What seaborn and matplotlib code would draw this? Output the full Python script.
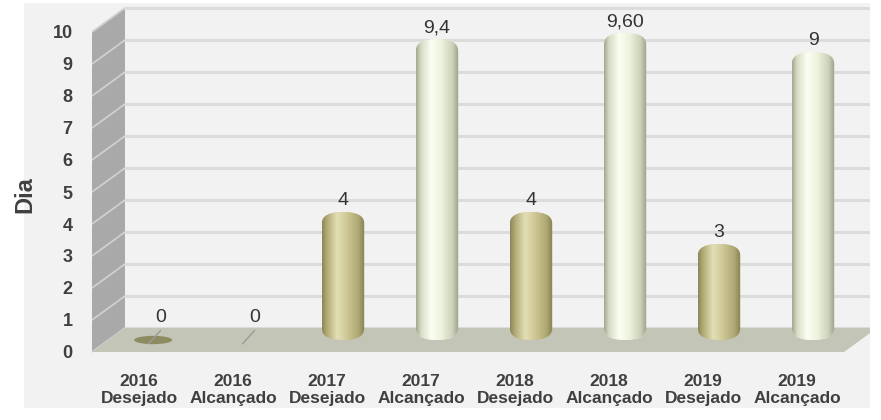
import numpy as np
import pandas as pd
import matplotlib
matplotlib.use("Agg")
import matplotlib.pyplot as plt
import seaborn as sns
from matplotlib.patches import Polygon, FancyBboxPatch, Ellipse, Rectangle
from matplotlib.colors import LinearSegmentedColormap

# ---- data ----
categorias = ["2016\nDesejado", "2016\nAlcançado", "2017\nDesejado", "2017\nAlcançado",
              "2018\nDesejado", "2018\nAlcançado", "2019\nDesejado", "2019\nAlcançado"]
tipos = ["Desejado", "Alcançado", "Desejado", "Alcançado",
         "Desejado", "Alcançado", "Desejado", "Alcançado"]
valores = [0, 0, 4, 9.4, 4, 9.6, 3, 9]
rotulos = ["0", "0", "4", "9,4", "4", "9,60", "3", "9"]
yticks = list(range(0, 11))
ylabel = "Dia"

df = pd.DataFrame({"cat": categorias, "tipo": tipos, "valor": valores})

sns.set_theme(style="white")
FONT = ["Liberation Sans", "DejaVu Sans"]
plt.rcParams["font.family"] = FONT

W, H = 881, 420
fig = plt.figure(figsize=(W / 100, H / 100), dpi=100)
fig.patch.set_facecolor("white")
# grey panel background
fig.patches.append(Rectangle((24 / W, 1 - 408 / H), (870 - 24) / W, (408 - 3) / H,
                             transform=fig.transFigure, facecolor="#f2f2f2",
                             edgecolor="none", zorder=-10))

# axes: front plane mapping  x_px = 139 + 94*x,  y_px = 352 - 32*y
xmin, xmax = -0.5, (870 - 139) / 94
ymin, ymax = -0.3, 10.85
left = (139 + 94 * xmin) / W
right = (139 + 94 * xmax) / W
bottom = 1 - (352 - 32 * ymin) / H
top = 1 - (352 - 32 * ymax) / H
ax = fig.add_axes([left, bottom, right - left, top - bottom])
ax.set_facecolor("none")

COL_D, COL_A = "#c6bf8c", "#eef3df"
palette = {"Desejado": COL_D, "Alcançado": COL_A}
sns.barplot(data=df, x="cat", y="valor", hue="tipo", order=categorias,
            palette=palette, dodge=False, width=0.45, legend=False, saturation=1,
            edgecolor="none", ax=ax, zorder=2)

# depth offsets (data units)
DX, DY = 33 / 94, 24 / 32
BX, BY = DX / 2 - 0.005, DY / 2

# side wall
ax.add_patch(Polygon([(-0.5, 0), (-0.5 + DX, DY), (-0.5 + DX, 10 + DY), (-0.5, 10)],
                     closed=True, facecolor="#a9a9a9", edgecolor="none", zorder=0.5))
for v in yticks:
    ax.plot([-0.5, -0.5 + DX], [v, v + DY], color="#cfcfcf", lw=1.3, zorder=0.6,
            solid_capstyle="butt")
    ax.plot([-0.5 + DX, xmax + 1], [v + DY, v + DY], color="#dcdcdc", lw=2.2, zorder=0.6)
# floor
ax.add_patch(Polygon([(-0.5, 0), (7.5, 0), (7.5 + DX, DY), (-0.5 + DX, DY)],
                     closed=True, facecolor="#c3c5b6", edgecolor="none", zorder=0.7))

cmap_d = LinearSegmentedColormap.from_list("d", [
    (0.0, "#8c875a"), (0.12, "#b3ac78"), (0.35, "#e3dfb6"), (0.6, "#cdc694"),
    (0.85, "#aea874"), (1.0, "#85804f")])
cmap_a = LinearSegmentedColormap.from_list("a", [
    (0.0, "#a3a891"), (0.12, "#d8ddc6"), (0.35, "#fbfef3"), (0.6, "#edf2dd"),
    (0.85, "#cdd2ba"), (1.0, "#9a9f88")])
grad = np.linspace(0, 1, 128)[None, :]

for p in list(ax.patches):
    if not isinstance(p, Rectangle) or p.get_zorder() != 2:
        continue
    x0 = p.get_x() + BX
    w = p.get_width()
    h = p.get_height()
    p.set_x(x0)
    p.set_y(BY)
    idx = int(round(x0 + w / 2 - BX))
    is_d = tipos[idx] == "Desejado"
    cx = x0 + w / 2
    if h > 0:
        r = 0.499 * w
        clip = FancyBboxPatch((x0, BY), w, h, boxstyle=f"round,pad=0,rounding_size={r}",
                              mutation_aspect=1.6, transform=ax.transData,
                              facecolor="none", edgecolor="none")
        p.set_clip_path(clip)
        im = ax.imshow(grad, cmap=cmap_d if is_d else cmap_a, aspect="auto",
                       extent=(x0, x0 + w, BY, BY + h), zorder=2.1, interpolation="bilinear")
        im.set_clip_path(clip)
        ax.annotate(rotulos[idx], (cx, BY + h), xytext=(0, 2), textcoords="offset points",
                    ha="center", va="bottom", fontsize=14, color="#333333", family=FONT)
    else:
        if is_d:
            ax.add_patch(Ellipse((cx - 0.02, BY), w * 0.9, 0.26, facecolor="#8d8b62",
                                 edgecolor="none", zorder=1.5))
        ax.plot([cx - 0.07, cx + 0.06], [BY - 0.12, BY + 0.3], color="#9a9a9a", lw=1, zorder=1.6)
        ax.text(cx + 0.06, BY + 0.45, rotulos[idx], ha="center", va="bottom",
                fontsize=14, color="#333333", family=FONT)

ax.set_xlim(xmin, xmax)
ax.set_ylim(ymin, ymax)
ax.set_yticks(yticks)
ax.set_yticklabels([str(v) for v in yticks], fontsize=13, fontweight="bold",
                   color="#404040", family=FONT)
ax.set_xticks(range(len(categorias)))
ax.set_xticklabels(categorias, fontsize=12.5, fontweight="bold", color="#404040",
                   family=FONT, linespacing=1.15)
ax.tick_params(axis="y", length=0, pad=14)
ax.tick_params(axis="x", length=0, pad=9)
ax.set_xlabel("")
ax.set_ylabel("")
for s in ax.spines.values():
    s.set_visible(False)
ax.grid(False)

fig.text(25 / W, 1 - 195 / H, ylabel, rotation=90, ha="center", va="center",
         fontsize=17, fontweight="bold", color="#404040", family=FONT)

fig.savefig("out.png", dpi=100, facecolor=fig.get_facecolor())
